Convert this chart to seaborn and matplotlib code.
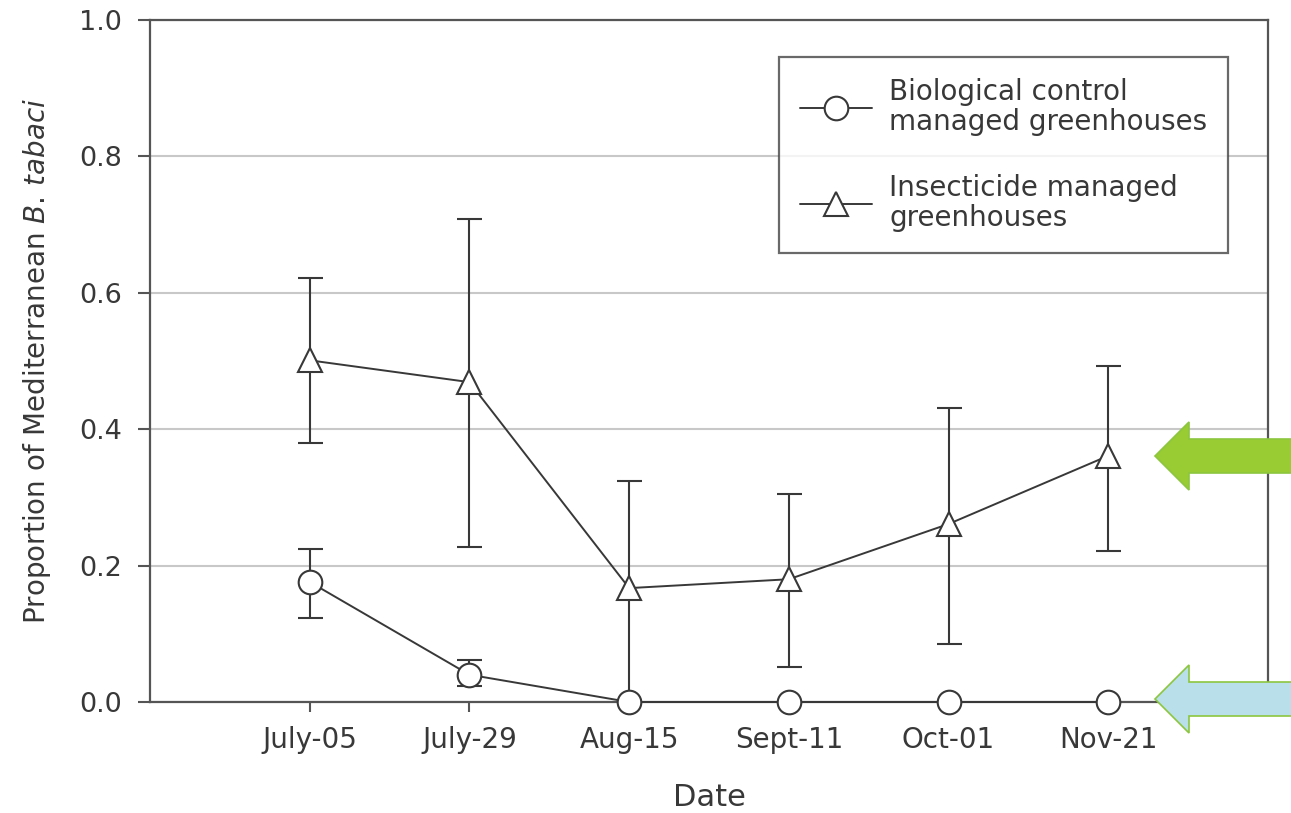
import matplotlib
matplotlib.use("Agg")
import matplotlib.pyplot as plt
import seaborn as sns
import pandas as pd
import numpy as np
from matplotlib.patches import Polygon
from matplotlib.lines import Line2D

dates = ["July-05", "July-29", "Aug-15", "Sept-11", "Oct-01", "Nov-21"]
bio_mean = [0.176, 0.040, 0.0, 0.0, 0.0, 0.0]
bio_upper = [0.224, 0.062, 0.0, 0.0, 0.0, 0.0]
bio_lower = [0.123, 0.023, 0.0, 0.0, 0.0, 0.0]
ins_mean = [0.501, 0.469, 0.167, 0.180, 0.261, 0.361]
ins_upper = [0.622, 0.708, 0.324, 0.305, 0.431, 0.493]
ins_lower = [0.380, 0.227, 0.003, 0.051, 0.085, 0.221]
series_names = ["Biological control\nmanaged greenhouses", "Insecticide managed\ngreenhouses"]

sns.set_theme(style="white")
plt.rcParams['font.family'] = ['DejaVu Sans']
plt.rcParams['mathtext.fontset'] = 'dejavusans'

dark = "#383838"
fig = plt.figure(figsize=(12.91, 8.13), dpi=100)
ax = fig.add_axes([150/1291, 1-702/813, (1268-150)/1291, (702-20)/813])

df = pd.DataFrame({
    "Date": dates * 2,
    "value": bio_mean + ins_mean,
    "series": [series_names[0]] * len(dates) + [series_names[1]] * len(dates),
})

# error bars first (behind markers)
for mean, up, lo in [(bio_mean, bio_upper, bio_lower), (ins_mean, ins_upper, ins_lower)]:
    m = np.array(mean); u = np.array(up); l = np.array(lo)
    ax.errorbar(dates, m, yerr=[m - l, u - m], fmt="none", ecolor=dark,
                elinewidth=1.5, capsize=9, capthick=1.5, zorder=2)

sns.lineplot(data=df, x="Date", y="value", hue="series", style="series",
             markers=["o", "^"], dashes=False, palette=[dark, dark],
             markersize=17, markerfacecolor="white", markeredgecolor=dark,
             markeredgewidth=1.5, linewidth=1.4, ax=ax, legend=False, zorder=3,
             sort=False)
for ln in ax.lines:
    ln.set_clip_on(False)

ax.set_xlim(-1, 6)
ax.set_ylim(0, 1.0)
ax.set_yticks([0.0, 0.2, 0.4, 0.6, 0.8, 1.0])
ax.set_yticklabels(["0.0", "0.2", "0.4", "0.6", "0.8", "1.0"])
ax.yaxis.grid(True, color="#c8c8c8", linewidth=1.5)
ax.set_axisbelow(True)
for s in ax.spines.values():
    s.set_color("#555555")
    s.set_linewidth(1.6)
ax.tick_params(axis="y", direction="out", length=9, width=1.5, color="#555555",
               labelsize=19.5, labelcolor=dark, pad=11, left=True)
ax.tick_params(axis="x", direction="out", length=7, width=1.5, color="#555555",
               labelsize=20, labelcolor=dark, pad=10, bottom=True)
ax.set_xlabel("Date", fontsize=22, color=dark, labelpad=21)
ax.set_ylabel(r"Proportion of Mediterranean $\mathit{B.}\,\mathit{tabaci}$", fontsize=20,
              color=dark, labelpad=19)

handles = [
    Line2D([], [], color=dark, marker="o", markersize=17, markerfacecolor="white",
           markeredgecolor=dark, markeredgewidth=1.5, linewidth=1.4),
    Line2D([], [], color=dark, marker="^", markersize=17, markerfacecolor="white",
           markeredgecolor=dark, markeredgewidth=1.5, linewidth=1.4),
]
leg = fig.legend(handles, series_names, loc="upper right",
                 bbox_to_anchor=(1228/1291, 1-57/813), fontsize=20,
                 frameon=True, fancybox=False, handlelength=2.6, labelspacing=1.35,
                 borderpad=0.75, handletextpad=0.6, borderaxespad=0)
leg.get_frame().set_edgecolor("#444444")
leg.get_frame().set_linewidth(1.6)
for t in leg.get_texts():
    t.set_color(dark)
    t.set_linespacing(1.1)

def arrow(yc, face, edge):
    H = 813
    tip = 1155; base = 1189; end = 1295
    body_h = 17; head_h = 34
    pts = [(tip, yc), (base, yc - head_h), (base, yc - body_h), (end, yc - body_h),
           (end, yc + body_h), (base, yc + body_h), (base, yc + head_h)]
    pts = [(x/1291, 1 - y/H) for x, y in pts]
    fig.patches.append(Polygon(pts, closed=True, transform=fig.transFigure,
                               facecolor=face, edgecolor=edge, linewidth=1.2, zorder=10))

arrow(456, "#99cc33", "#8cc63f")
arrow(699, "#b9e0ea", "#8cc63f")

fig.savefig("out.png", dpi=100)
